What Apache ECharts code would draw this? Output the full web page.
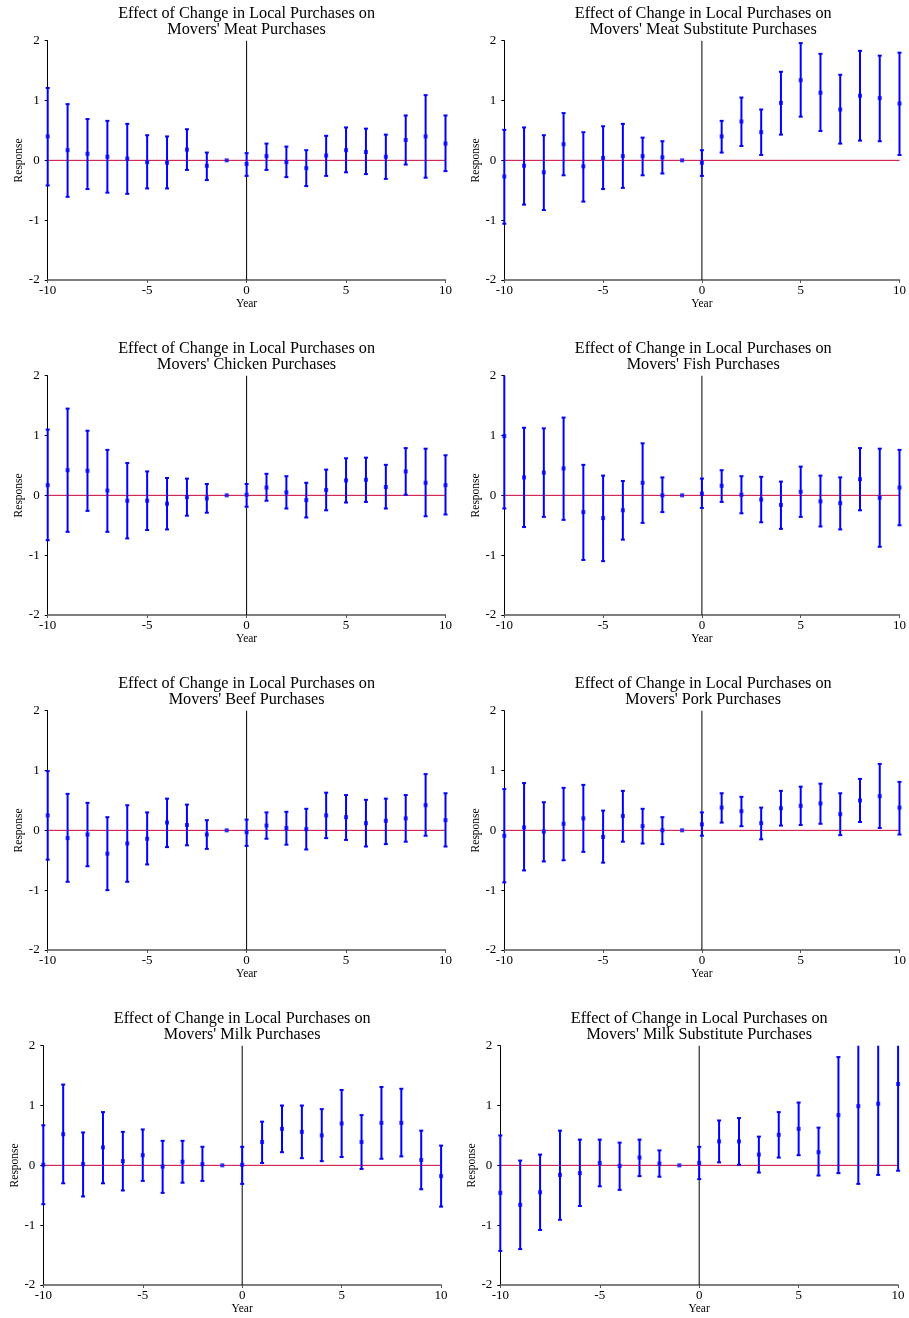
<!DOCTYPE html>
<html>
<head>
<meta charset="utf-8">
<script src="https://cdn.jsdelivr.net/npm/echarts@6/dist/echarts.min.js"></script>
<style>
html,body{margin:0;padding:0;background:#fff;}
#chart{width:909px;height:1318px;}
</style>
</head>
<body>
<div id="chart"></div>
<script>
const years = [-10,-9,-8,-7,-6,-5,-4,-3,-2,-1,0,1,2,3,4,5,6,7,8,9,10];
const xTicks = [-10,-5,0,5,10];
const yTicks = [-2,-1,0,1,2];

const titles = [
  "Effect of Change in Local Purchases on\nMovers' Meat Purchases",
  "Effect of Change in Local Purchases on\nMovers' Meat Substitute Purchases",
  "Effect of Change in Local Purchases on\nMovers' Chicken Purchases",
  "Effect of Change in Local Purchases on\nMovers' Fish Purchases",
  "Effect of Change in Local Purchases on\nMovers' Beef Purchases",
  "Effect of Change in Local Purchases on\nMovers' Pork Purchases",
  "Effect of Change in Local Purchases on\nMovers' Milk Purchases",
  "Effect of Change in Local Purchases on\nMovers' Milk Substitute Purchases"
];

// Meat
const meatEst = [0.40,0.17,0.11,0.06,0.03,-0.03,-0.04,0.18,-0.09,0,-0.06,0.07,-0.03,-0.13,0.08,0.17,0.14,0.06,0.34,0.40,0.28];
const meatLo  = [-0.42,-0.61,-0.48,-0.54,-0.56,-0.47,-0.47,-0.16,-0.33,0,-0.26,-0.16,-0.28,-0.43,-0.26,-0.20,-0.23,-0.31,-0.07,-0.29,-0.18];
const meatHi  = [1.21,0.94,0.69,0.66,0.61,0.42,0.40,0.52,0.13,0,0.12,0.28,0.23,0.17,0.41,0.55,0.53,0.43,0.75,1.09,0.75];
// Meat substitute
const meatSubEst = [-0.27,-0.09,-0.20,0.27,-0.10,0.04,0.07,0.07,0.05,0,-0.04,0.40,0.65,0.47,0.96,1.34,1.13,0.85,1.08,1.04,0.95];
const meatSubLo  = [-1.06,-0.74,-0.83,-0.25,-0.69,-0.48,-0.46,-0.25,-0.22,0,-0.26,0.13,0.24,0.09,0.43,0.73,0.49,0.28,0.33,0.32,0.09];
const meatSubHi  = [0.51,0.55,0.42,0.79,0.47,0.57,0.61,0.38,0.32,0,0.17,0.66,1.05,0.85,1.48,1.96,1.78,1.43,1.83,1.75,1.80];
// Chicken
const chickenEst = [0.17,0.42,0.41,0.08,-0.09,-0.09,-0.14,-0.03,-0.05,0,0.01,0.13,0.05,-0.08,0.09,0.25,0.26,0.14,0.40,0.21,0.17];
const chickenLo  = [-0.75,-0.61,-0.26,-0.61,-0.72,-0.58,-0.57,-0.34,-0.29,0,-0.19,-0.09,-0.22,-0.37,-0.25,-0.12,-0.11,-0.22,0.01,-0.35,-0.32];
const chickenHi  = [1.10,1.45,1.08,0.76,0.54,0.40,0.29,0.28,0.19,0,0.19,0.36,0.32,0.21,0.43,0.62,0.63,0.51,0.79,0.78,0.67];
// Fish
const fishEst = [0.99,0.30,0.38,0.45,-0.28,-0.38,-0.25,0.21,0.00,0,0.03,0.16,0.01,-0.07,-0.16,0.06,-0.10,-0.13,0.27,-0.04,0.13];
const fishLo  = [-0.22,-0.53,-0.36,-0.41,-1.08,-1.10,-0.74,-0.46,-0.28,0,-0.21,-0.11,-0.30,-0.45,-0.56,-0.36,-0.52,-0.57,-0.25,-0.86,-0.50];
const fishHi  = [2.20,1.13,1.12,1.30,0.51,0.33,0.24,0.87,0.30,0,0.28,0.42,0.32,0.31,0.23,0.48,0.33,0.30,0.79,0.78,0.76];
// Beef
const beefEst = [0.25,-0.13,-0.07,-0.39,-0.22,-0.14,0.13,0.09,-0.07,0,-0.03,0.08,0.04,0.02,0.25,0.22,0.12,0.16,0.20,0.42,0.17];
const beefLo  = [-0.49,-0.86,-0.60,-1.00,-0.86,-0.57,-0.28,-0.25,-0.31,0,-0.26,-0.14,-0.24,-0.32,-0.13,-0.16,-0.27,-0.23,-0.19,-0.09,-0.27];
const beefHi  = [0.99,0.61,0.46,0.22,0.42,0.30,0.53,0.43,0.17,0,0.18,0.30,0.31,0.36,0.63,0.59,0.51,0.53,0.59,0.94,0.62];
// Pork
const porkEst = [-0.09,0.05,-0.02,0.11,0.20,-0.11,0.24,0.07,0.00,0,0.10,0.38,0.32,0.12,0.37,0.41,0.45,0.27,0.50,0.57,0.38];
const porkLo  = [-0.87,-0.67,-0.52,-0.50,-0.36,-0.54,-0.19,-0.22,-0.23,0,-0.09,0.13,0.07,-0.15,0.08,0.09,0.11,-0.08,0.14,0.04,-0.07];
const porkHi  = [0.69,0.79,0.47,0.71,0.76,0.33,0.66,0.36,0.22,0,0.30,0.62,0.56,0.38,0.66,0.73,0.78,0.62,0.86,1.11,0.81];
// Milk
const milkEst = [0.01,0.52,0.02,0.30,0.07,0.17,-0.02,0.06,0.02,0,0.01,0.39,0.61,0.56,0.50,0.70,0.39,0.71,0.71,0.09,-0.18];
const milkLo  = [-0.65,-0.30,-0.52,-0.30,-0.42,-0.26,-0.46,-0.29,-0.26,0,-0.31,0.04,0.22,0.12,0.07,0.14,-0.06,0.11,0.15,-0.40,-0.69];
const milkHi  = [0.67,1.35,0.55,0.89,0.56,0.60,0.41,0.41,0.31,0,0.31,0.73,1.00,1.00,0.94,1.26,0.84,1.31,1.28,0.58,0.33];
// Milk substitute
const milkSubEst = [-0.46,-0.66,-0.45,-0.16,-0.13,0.04,-0.01,0.13,0.03,0,0.04,0.40,0.40,0.18,0.51,0.61,0.22,0.84,0.99,1.03,1.36];
const milkSubLo  = [-1.43,-1.40,-1.08,-0.91,-0.68,-0.35,-0.41,-0.18,-0.19,0,-0.23,0.05,0.01,-0.12,0.13,0.17,-0.17,-0.13,-0.31,-0.16,-0.09];
const milkSubHi  = [0.50,0.08,0.18,0.58,0.43,0.43,0.38,0.43,0.25,0,0.31,0.75,0.79,0.48,0.89,1.05,0.63,1.81,2.28,2.22,2.81];

const panels = [
  [meatEst, meatLo, meatHi],
  [meatSubEst, meatSubLo, meatSubHi],
  [chickenEst, chickenLo, chickenHi],
  [fishEst, fishLo, fishHi],
  [beefEst, beefLo, beefHi],
  [porkEst, porkLo, porkHi],
  [milkEst, milkLo, milkHi],
  [milkSubEst, milkSubLo, milkSubHi]
];

// layout (px)
const gridBoxes = [
  {left:47.7, top:40.7}, {left:504.3, top:40.7},
  {left:47.7, top:375.7}, {left:504.3, top:375.7},
  {left:47.7, top:710.7}, {left:504.3, top:710.7},
  {left:43.3, top:1045.7}, {left:500.3, top:1045.7}
];
const GW = 397.8, GH = 239.3;
const FONT = "'Liberation Serif', 'Times New Roman', serif";
const BLUE = '#0000ff';
const ZERO = '#cc0036';
const Y_MIN = yTicks[0], Y_MAX = yTicks[yTicks.length-1];

const grids = [], xAxes = [], yAxes = [], series = [], titleArr = [];
panels.forEach((p, i) => {
  const g = gridBoxes[i];
  grids.push({left:g.left, top:g.top, width:GW, height:GH, containLabel:false});
  titleArr.push({
    text: titles[i],
    left: g.left + GW/2, top: g.top - 34.5,
    padding: 0,
    textAlign: 'center',
    textStyle: {fontFamily: FONT, fontSize: 16.2, fontWeight: 'normal', color: '#000', lineHeight: 16}
  });
  xAxes.push({
    gridIndex: i, type: 'value', min: xTicks[0], max: xTicks[xTicks.length-1], interval: 5,
    name: 'Year', nameLocation: 'middle', nameGap: 18,
    nameTextStyle: {fontFamily: FONT, fontSize: 11.5, color: '#000'},
    axisLine: {show: true, onZero: false, lineStyle: {color: '#555', width: 1.5}},
    axisTick: {show: true, length: 3, lineStyle: {color: '#555'}},
    axisLabel: {fontFamily: FONT, fontSize: 13, color: '#000', margin: 4},
    splitLine: {show: false}
  });
  yAxes.push({
    gridIndex: i, type: 'value', min: Y_MIN, max: Y_MAX, interval: 1,
    name: 'Response', nameLocation: 'middle', nameGap: 21, nameRotate: 90,
    nameTextStyle: {fontFamily: FONT, fontSize: 11.5, color: '#000'},
    axisLine: {show: true, onZero: false, lineStyle: {color: '#000', width: 1}},
    axisTick: {show: true, length: 3, lineStyle: {color: '#000'}},
    axisLabel: {fontFamily: FONT, fontSize: 13, color: '#000', margin: 8},
    splitLine: {show: false}
  });
  // zero line
  series.push({
    type: 'line', xAxisIndex: i, yAxisIndex: i, silent: true, symbol: 'none', z: 1,
    data: [[xTicks[0], 0], [xTicks[xTicks.length-1], 0]],
    lineStyle: {color: ZERO, width: 1}
  });
  // vertical line at year 0
  series.push({
    type: 'line', xAxisIndex: i, yAxisIndex: i, silent: true, symbol: 'none', z: 1,
    data: [[0, Y_MIN], [0, Y_MAX]],
    lineStyle: {color: '#000', width: 1}
  });
  // error bars (clamped to the y range in data space)
  series.push({
    type: 'custom', xAxisIndex: i, yAxisIndex: i, silent: true, clip: false, z: 3,
    data: years.map((y, k) => [y, p[1][k], p[2][k]]),
    encode: {x: 0, y: [1, 2]},
    renderItem: function(params, api) {
      const x = api.value(0), lo = api.value(1), hi = api.value(2);
      if (lo === hi) return null;
      const hiC = Math.min(hi, Y_MAX), loC = Math.max(lo, Y_MIN);
      const top = api.coord([x, hiC]);
      const bot = api.coord([x, loC]);
      const st = {stroke: BLUE, lineWidth: 2};
      const children = [
        {type: 'line', shape: {x1: top[0], y1: top[1], x2: bot[0], y2: bot[1]}, style: st}
      ];
      if (hi <= Y_MAX) children.push({type: 'line', shape: {x1: top[0]-2, y1: top[1], x2: top[0]+2, y2: top[1]}, style: st});
      if (lo >= Y_MIN) children.push({type: 'line', shape: {x1: bot[0]-2, y1: bot[1], x2: bot[0]+2, y2: bot[1]}, style: st});
      return {type: 'group', children: children};
    }
  });
  // point estimates
  series.push({
    type: 'scatter', xAxisIndex: i, yAxisIndex: i, silent: true, z: 4, clip: false,
    symbol: 'rect', symbolSize: 4,
    itemStyle: {color: BLUE},
    data: years.map((y, k) => [y, p[0][k]])
  });
});

const chart = echarts.init(document.getElementById('chart'), null, {renderer: 'canvas'});
chart.setOption({
  animation: false,
  backgroundColor: '#fff',
  title: titleArr,
  grid: grids,
  xAxis: xAxes,
  yAxis: yAxes,
  series: series
});
</script>
</body>
</html>
